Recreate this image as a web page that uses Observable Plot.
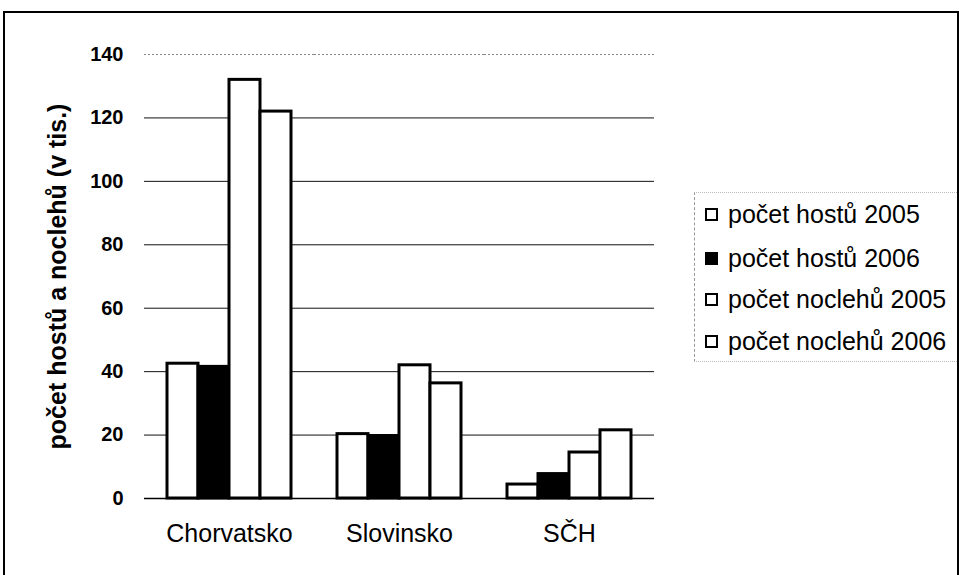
<!DOCTYPE html>
<html><head><meta charset="utf-8">
<script src="https://cdn.jsdelivr.net/npm/d3@7"></script>
<script src="https://cdn.jsdelivr.net/npm/@observablehq/plot@0.6"></script>
<style>
body{margin:0;background:#fff;}
#wrap{position:relative;width:959px;height:575px;overflow:hidden;font-family:"Liberation Sans",Arial,sans-serif;background:#fff;}
#wrap svg{position:absolute;left:0;top:0;}
#frame{position:absolute;left:3px;top:11px;width:952px;height:580px;border:2px solid #000;pointer-events:none;}
#legend{position:absolute;left:694px;top:192px;width:262px;height:168px;border-left:1px dashed #999;border-top:1px dotted #bbb;border-bottom:1px dotted #bbb;}
.item{position:absolute;left:10px;height:30px;display:flex;align-items:center;font-size:25px;color:#000;white-space:nowrap;}
.sw{width:9px;height:9px;border:2px solid #000;margin-right:10px;flex:none;}
g[aria-label="y-axis label"]{font-size:25px;}
</style></head>
<body>
<div id="wrap"><div id="frame"></div><div id="legend"></div></div>
<script>
const countries = ["Chorvatsko", "Slovinsko", "SČH"];
const seriesNames = ["počet hostů 2005", "počet hostů 2006", "počet noclehů 2005", "počet noclehů 2006"];
const seriesFill = ["#ffffff", "#000000", "#ffffff", "#ffffff"];
const guests2005 = [42.5, 20.3, 4.4];
const guests2006 = [41.5, 19.7, 7.7];
const nights2005 = [132, 42, 14.5];
const nights2006 = [122, 36.3, 21.5];
const yTicks = [0, 20, 40, 60, 80, 100, 120, 140];

const seriesValues = [guests2005, guests2006, nights2005, nights2006];
const rows = [];
countries.forEach((c, i) => seriesNames.forEach((s, j) => rows.push({country: c, series: s, value: seriesValues[j][i]})));

const W = 959, H = 575, ML = 144, MR = 305, MT = 54, MB = 77;
const half = (W - ML - MR) / countries.length / 2;

const chart = Plot.plot({
  width: W, height: H,
  marginLeft: ML, marginRight: MR, marginTop: MT, marginBottom: MB,
  style: {fontFamily: "'Liberation Sans', Arial, sans-serif", background: "transparent", color: "#000"},
  fx: {domain: countries, padding: 0},
  x: {domain: seriesNames, paddingInner: 0, paddingOuter: 0.74, axis: null},
  y: {domain: [0, 140]},
  color: {domain: seriesNames, range: seriesFill},
  marks: [
    Plot.ruleY(yTicks.filter(v => v > 0 && v < 140), {stroke: "#111", strokeWidth: 1}),
    Plot.ruleY([140], {stroke: "#888", strokeDasharray: "2,2"}),
    Plot.ruleX([countries[countries.length - 1]], {fx: d => d, dx: half, y1: 0, y2: 140, stroke: "#888", strokeDasharray: "3,2"}),
    Plot.barY(rows, {fx: "country", x: "series", y: "value", fill: "series", stroke: "#000", strokeWidth: 3}),
    Plot.ruleY([0], {stroke: "#000", strokeWidth: 1.5}),
    Plot.ruleX([countries[0]], {fx: d => d, dx: -half, y1: -2.2, y2: 140, stroke: "#000", strokeWidth: 1.5}),
    Plot.ruleX(countries.slice(1), {fx: d => d, dx: -half, y1: -2.2, y2: 0, stroke: "#000", strokeWidth: 1.2}),
    Plot.ruleX([countries[countries.length - 1]], {fx: d => d, dx: half, y1: -2.2, y2: 0, stroke: "#000", strokeWidth: 1.2}),
    Plot.axisY(yTicks, {anchor: "left", tickSize: 0, tickPadding: 21, fontSize: 20, fontWeight: "bold",
      label: "počet hostů a noclehů (v tis.)", labelAnchor: "center", labelOffset: 96, labelArrow: "none"}),
    Plot.axisFx({anchor: "bottom", tickSize: 0, tickPadding: 26, fontSize: 25, label: null})
  ]
});
const wrap = document.getElementById("wrap");
wrap.insertBefore(chart, wrap.firstChild);

const legend = document.getElementById("legend");
const itemTops = [6, 50, 91, 133];
seriesNames.forEach((s, i) => {
  const it = document.createElement("div");
  it.className = "item";
  it.style.top = itemTops[i] + "px";
  const sw = document.createElement("div");
  sw.className = "sw";
  sw.style.background = seriesFill[i];
  it.appendChild(sw);
  it.appendChild(document.createTextNode(s));
  legend.appendChild(it);
});
</script>
</body></html>
